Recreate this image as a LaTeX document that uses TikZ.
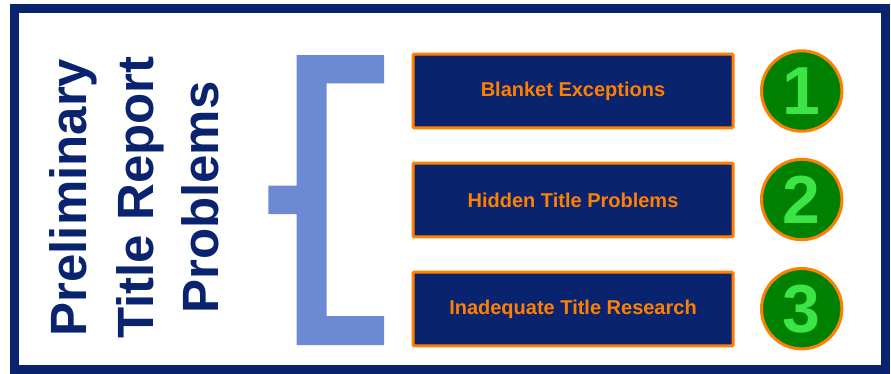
\documentclass[tikz,border=0pt]{standalone}
\usepackage{fontspec}
\setmainfont{Liberation Sans}
\definecolor{navy}{RGB}{10,35,110}
\definecolor{orng}{RGB}{255,128,0}
\definecolor{brk}{RGB}{108,137,212}
\definecolor{dgreen}{RGB}{0,128,0}
\definecolor{lgreen}{RGB}{60,228,70}
\tikzset{
  titleline/.style={anchor=base, rotate=90, inner sep=0pt, text=navy,
    font=\fontsize{51}{60}\selectfont\bfseries},
  itembox/.style={draw=orng, line width=3pt, fill=navy, rounded corners=1pt,
    minimum width=320pt, minimum height=73.6pt, inner sep=0pt, text=orng,
    font=\fontsize{20}{24}\selectfont\bfseries},
  numcirc/.style={circle, draw=orng, line width=3pt, fill=dgreen,
    minimum size=80.4pt, inner sep=0pt, text=lgreen,
    font=\fontsize{68}{70}\selectfont\bfseries},
}
\begin{document}
\begin{tikzpicture}[x=1pt,y=-1pt]
\useasboundingbox (0,0) rectangle (891,373);
% outer frame
\draw[navy, line width=9pt] (14.5,8.5) rectangle (885.5,369);
% title
\node[titleline] (t1) at (86.7,197.6) {Preliminary};
\node[titleline] (t2) at (153,197.6) {Title Report};
\node[titleline] (t3) at (218.3,197.6) {Problems};
% bracket
\fill[brk] (384,55) -- (296.7,55) -- (296.7,185.7) -- (268.3,185.7) -- (268.3,214)
  -- (296.7,214) -- (296.7,345) -- (384,345) -- (384,316) -- (326.7,316)
  -- (326.7,83.3) -- (384,83.3) -- cycle;
% boxes
\node[itembox] (b1) at (573,91) {Blanket Exceptions};
\node[itembox] (b2) at (573,200) {Hidden Title Problems};
\node[itembox] (b3) at (573,309) {Inadequate Title Research};
% circles
\node[numcirc] (c1) at (801.7,91) {1};
\node[numcirc] (c2) at (801.7,199.5) {2};
\node[numcirc] (c3) at (801.7,308.7) {3};
\end{tikzpicture}
\end{document}
